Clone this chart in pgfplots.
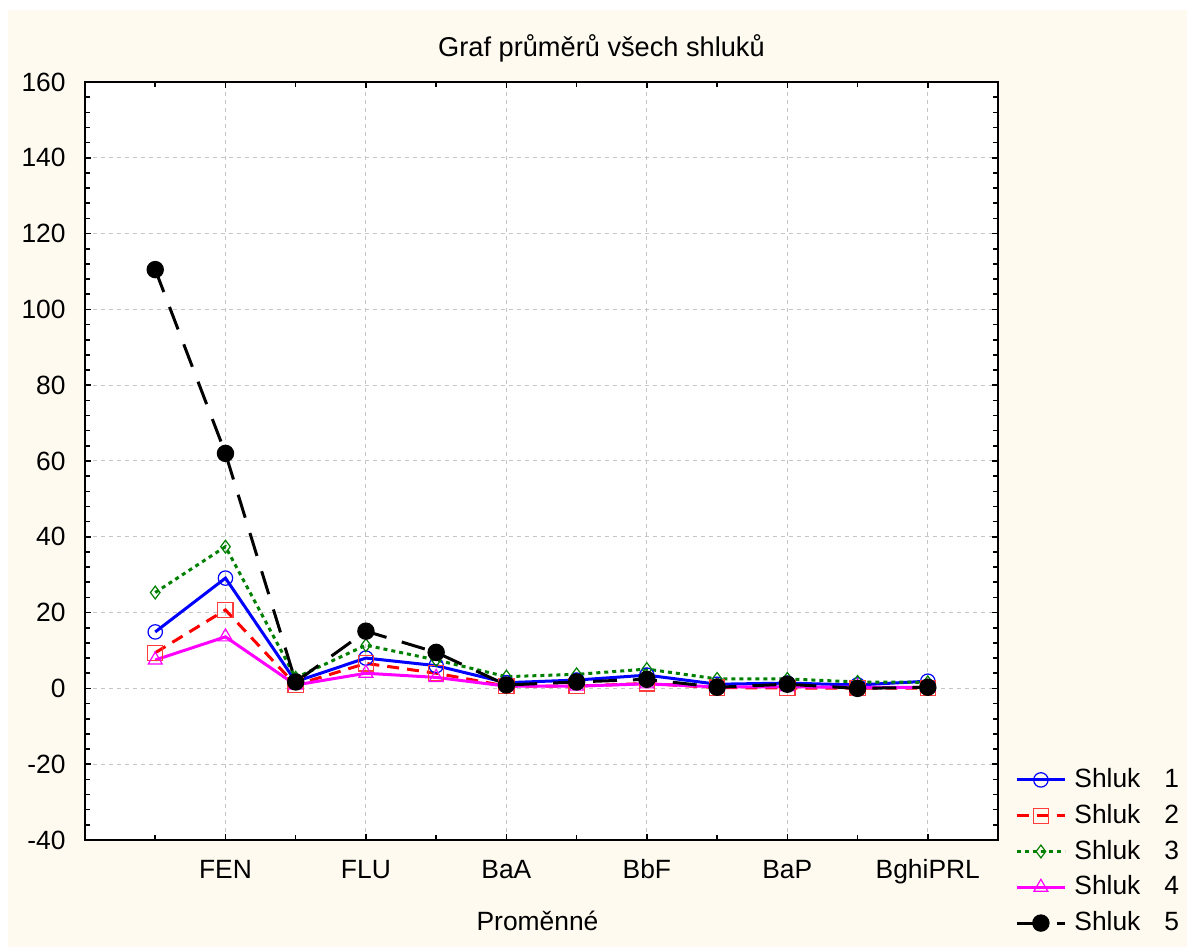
\documentclass[border=0pt]{standalone}
\usepackage{fontspec}
\setmainfont{Liberation Sans}
\usepackage{pgfplots}
\pgfplotsset{compat=1.18}
\definecolor{cream}{RGB}{254,250,240}
\definecolor{mkred}{RGB}{255,60,60}
\definecolor{dkgreen}{RGB}{0,128,0}
\definecolor{pmag}{RGB}{255,0,255}
\pgfplotstableread{
x s1 s2 s3 s4 s5
0 14.9 9.4 25.3 7.5 110.5
1 29.1 20.7 37.4 13.6 62.0
2 1.8 0.9 2.8 0.9 1.7
3 8.0 6.6 11.4 4.0 15.1
4 6.0 4.0 7.5 2.9 9.5
5 1.5 0.6 3.1 0.6 0.9
6 2.2 0.6 3.7 0.6 1.7
7 3.5 1.3 5.1 1.2 2.4
8 1.1 0.2 2.5 0.4 0.3
9 1.4 0.1 2.5 0.4 1.1
10 0.9 0.1 1.7 0.3 0.0
11 1.9 0.1 1.6 0.3 0.3
}\data
\begin{document}
\fontsize{13.2}{15.5}\selectfont
\begin{tikzpicture}
\path[use as bounding box] (0,0) rectangle (593.5pt,473.5pt);
\fill[cream] (4pt,0) rectangle (593.5pt,468.5pt);
\begin{axis}[
  at={(42.5pt,53.5pt)}, anchor=south west,
  scale only axis, width=456.5pt, height=379pt,
  axis background/.style={fill=white},
  xmin=-1, xmax=12, ymin=-40, ymax=160,
  xtick={1,3,5,7,9,11},
  xticklabels={FEN,FLU,BaA,BbF,BaP,BghiPRL},
  minor xtick={0,2,4,6,8,10},
  ytick={-40,-20,0,20,40,60,80,100,120,140,160},
  minor y tick num=4,
  /pgf/number format/assume math mode=true,
  xmajorgrids, ymajorgrids,
  major grid style={gray!45, dash pattern=on 2pt off 2pt, line width=0.5pt},
  tick align=inside,
  major tick length=3pt, minor tick length=2.5pt,
  every tick/.style={black, line width=0.8pt},
  axis line style={line width=1.2pt},
  yticklabel style={anchor=east, inner sep=0pt, xshift=-9.5pt},
  xticklabel style={anchor=base, inner sep=0pt, yshift=-19pt},
  title={Graf průměrů všech shluků},
  title style={at={(rel axis cs:0.5,1)}, anchor=base, yshift=6.5pt, xshift=30pt, inner sep=0pt, font=\fontsize{13.6}{16}\selectfont},
  xlabel={Proměnné},
  xlabel style={at={(rel axis cs:0.5,0)}, anchor=base, yshift=-45pt, xshift=-2pt, inner sep=0pt},
  legend style={at={(1.0186,0.1003)}, anchor=north west, draw=none, fill=none,
    inner sep=0pt, row sep=2.35pt, font=\fontsize{13.2}{15.5}\selectfont,
    /tikz/every odd column/.append style={column sep=2pt}},
  legend cell align=left,
  legend image code/.code={\draw[mark repeat=2,mark phase=2,#1] plot coordinates {(0pt,0pt) (12pt,0pt) (24pt,0pt)};},
]
\addplot[blue, line width=1.5pt, mark=o, mark size=3.6pt, mark options={solid, fill=white, line width=0.6pt}] table[x=x,y=s1] {\data};
\addlegendentry{Shluk\hspace{12pt}1}
\addplot[red, line width=1.5pt, dash pattern=on 6pt off 4pt, mark=square, mark size=3.8pt, mark options={solid, draw=mkred, fill=white, line width=0.6pt}] table[x=x,y=s2] {\data};
\addlegendentry{Shluk\hspace{12pt}2}
\addplot[dkgreen, line width=1.5pt, dash pattern=on 2pt off 2pt, mark=diamond, mark size=3.2pt, mark options={solid, fill=white, line width=0.6pt}] table[x=x,y=s3] {\data};
\addlegendentry{Shluk\hspace{12pt}3}
\addplot[pmag, line width=1.5pt, mark=triangle, mark size=4pt, mark options={solid, fill=white, line width=0.6pt}] table[x=x,y=s4] {\data};
\addlegendentry{Shluk\hspace{12pt}4}
\addplot[black, line width=1.5pt, dash pattern=on 12pt off 8pt, mark=*, mark size=3.6pt, mark options={solid, fill=black}] table[x=x,y=s5] {\data};
\addlegendentry{Shluk\hspace{12pt}5}
\end{axis}
\end{tikzpicture}
\end{document}
